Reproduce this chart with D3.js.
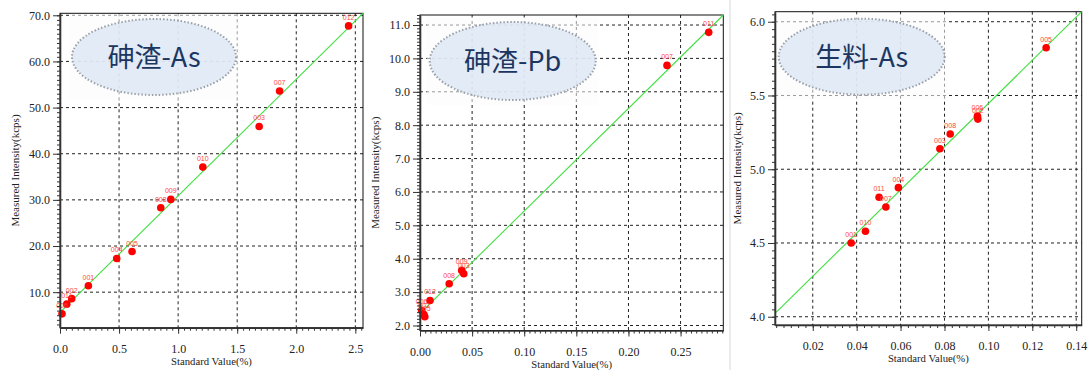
<!DOCTYPE html>
<html>
<head>
<meta charset="utf-8">
<script src="https://cdn.jsdelivr.net/npm/d3@7"></script>
<style>
  body { margin: 0; background: #fff; }
  svg { display: block; }
</style>
</head>
<body>
<div id="chart"></div>
<script>
// ---- data ----
// panel 1 : 砷渣-As
const p1Ids = ["012", "007", "003", "010", "009", "008", "005", "004", "001", "002", "011", "006"];
const p1X = [2.443, 1.859, 1.686, 1.209, 0.938, 0.853, 0.610, 0.480, 0.240, 0.099, 0.057, 0.017];
const p1Y = [67.7, 53.6, 45.9, 37.1, 30.1, 28.3, 18.8, 17.3, 11.4, 8.6, 7.4, 5.3];
const p1LineX = [0, 2.565];
const p1LineY = [5.6, 70.43];
const p1XTicks = [0.0, 0.5, 1.0, 1.5, 2.0, 2.5];
const p1YTicks = [10, 20, 30, 40, 50, 60, 70];

// panel 2 : 砷渣-Pb
const p2Ids = ["011", "007", "009", "003", "008", "012", "006", "002", "005"];
const p2X = [0.277, 0.237, 0.040, 0.042, 0.028, 0.0096, 0.0016, 0.0038, 0.0046];
const p2Y = [10.78, 9.79, 3.65, 3.55, 3.25, 2.75, 2.45, 2.33, 2.26];
const p2LineX = [0.003, 0.291];
const p2LineY = [2.45, 11.3];
const p2XTicks = [0.00, 0.05, 0.10, 0.15, 0.20, 0.25];
const p2YTicks = [2, 3, 4, 5, 6, 7, 8, 9, 10, 11];

// panel 3 : 生料-As
const p3Ids = ["005", "006", "002", "008", "003", "004", "011", "007", "010", "001"];
const p3X = [0.1263, 0.0950, 0.0952, 0.0826, 0.0779, 0.0590, 0.0502, 0.0533, 0.0440, 0.0375];
const p3Y = [5.824, 5.36, 5.34, 5.239, 5.139, 4.875, 4.81, 4.744, 4.58, 4.50];
const p3LineX = [0.0033, 0.1425];
const p3LineY = [4.03, 6.068];
const p3XTicks = [0.02, 0.04, 0.06, 0.08, 0.10, 0.12, 0.14];
const p3YTicks = [4.0, 4.5, 5.0, 5.5, 6.0];

const titles = ["砷渣-As", "砷渣-Pb", "生料-As"];

const SERIF = "'Liberation Serif', 'DejaVu Serif', 'Times New Roman', serif";
const W = 1091, H = 370;
const svg = d3.select("#chart").append("svg").attr("width", W).attr("height", H);

// faint separator before the third panel
svg.append("line").attr("x1", 730).attr("x2", 730).attr("y1", 0).attr("y2", H)
  .attr("stroke", "#e4e4e4").attr("stroke-width", 1.5);

const panels = [
  { ids: p1Ids, xs: p1X, ys: p1Y, lx: p1LineX, ly: p1LineY, xt: p1XTicks, yt: p1YTicks,
    title: titles[0], left: 60, right: 363, top: 13.3, bottom: 327.7,
    xDom: [0, 2.565], yDom: [2.3, 70.43], xFmt: ".1f", yFmt: ".1f",
    xMinor: 0.05, yMinor: 1, yLabX: 15,
    ell: { cx: 154, cy: 57, rx: 82, ry: 38 } },
  { ids: p2Ids, xs: p2X, ys: p2Y, lx: p2LineX, ly: p2LineY, xt: p2XTicks, yt: p2YTicks,
    title: titles[1], left: 420, right: 723.3, top: 15, bottom: 330.5,
    xDom: [0, 0.291], yDom: [1.85, 11.3], xFmt: ".2f", yFmt: ".1f",
    xMinor: 0.005, yMinor: 0.1, yLabX: 375,
    ell: { cx: 512.7, cy: 61, rx: 83, ry: 39 } },
  { ids: p3Ids, xs: p3X, ys: p3Y, lx: p3LineX, ly: p3LineY, xt: p3XTicks, yt: p3YTicks,
    title: titles[2], left: 775, right: 1081.7, top: 11.7, bottom: 325,
    xDom: [0.0028, 0.1425], yDom: [3.944, 6.068], xFmt: ".2f", yFmt: ".1f",
    xMinor: 0.02 / 6, yMinor: 0.05, yLabX: 737,
    ell: { cx: 861.7, cy: 56.7, rx: 83, ry: 38 } }
];

panels.forEach(drawPanel);

function minorTicks(dom, step) {
  const out = [];
  const start = Math.ceil(dom[0] / step - 1e-6);
  for (let i = start; i * step <= dom[1] + 1e-9; i++) out.push(+(i * step).toFixed(6));
  return out;
}

function drawPanel(p) {
  const x = d3.scaleLinear().domain(p.xDom).range([p.left, p.right]);
  const y = d3.scaleLinear().domain(p.yDom).range([p.bottom, p.top]);
  const g = svg.append("g");

  // dashed grid
  const grid = g.append("g").attr("stroke", "#222").attr("stroke-width", 1)
    .attr("stroke-dasharray", "3,3");
  grid.selectAll("line.v").data(p.xt.filter(d => x(d) > p.left + 2 && x(d) < p.right - 1))
    .enter().append("line").attr("class", "v")
    .attr("x1", d => x(d)).attr("x2", d => x(d)).attr("y1", p.top).attr("y2", p.bottom);
  grid.selectAll("line.h").data(p.yt)
    .enter().append("line").attr("class", "h")
    .attr("x1", p.left).attr("x2", p.right).attr("y1", d => y(d)).attr("y2", d => y(d));

  // callout: faint white box that greys the grid, then ellipse + title
  g.append("rect")
    .attr("x", p.ell.cx - p.ell.rx - 3).attr("y", p.ell.cy - p.ell.ry - 5)
    .attr("width", 2 * p.ell.rx + 6).attr("height", 2 * p.ell.ry + 10)
    .attr("fill", "#fbfcfe").attr("fill-opacity", 0.55);
  g.append("ellipse").attr("cx", p.ell.cx).attr("cy", p.ell.cy)
    .attr("rx", p.ell.rx).attr("ry", p.ell.ry)
    .attr("fill", "#dde8f4").attr("fill-opacity", 0.85)
    .attr("stroke", "#9aa0a8").attr("stroke-width", 2).attr("stroke-dasharray", "1.5,2");
  g.append("text").attr("x", p.ell.cx).attr("y", p.ell.cy + 10)
    .attr("text-anchor", "middle")
    .style("font-family", "'Noto Sans CJK SC', 'Noto Sans', sans-serif")
    .style("font-size", "27px").style("fill", "#1c3561")
    .text(p.title);

  // frame
  g.append("rect").attr("x", p.left).attr("y", p.top)
    .attr("width", p.right - p.left).attr("height", p.bottom - p.top)
    .attr("fill", "none").attr("stroke", "#111").attr("stroke-width", 1);

  // calibration line
  const line = d3.line().x(d => x(d[0])).y(d => y(d[1]));
  g.append("path").datum(d3.zip(p.lx, p.ly))
    .attr("fill", "none").attr("stroke", "#3fe03f").attr("stroke-width", 1.1)
    .attr("d", line);

  // points + id labels
  const pts = d3.zip(p.ids, p.xs, p.ys);
  g.selectAll("circle.pt").data(pts).enter().append("circle").attr("class", "pt")
    .attr("cx", d => x(d[1])).attr("cy", d => y(d[2])).attr("r", 3.8)
    .attr("fill", "#ff0000");
  g.selectAll("text.lab").data(pts).enter().append("text").attr("class", "lab")
    .attr("x", d => x(d[1])).attr("y", d => y(d[2]) - 6)
    .attr("text-anchor", "middle")
    .style("font-family", "'Liberation Sans', sans-serif").style("font-size", "7px")
    .style("fill", "#ff4646")
    .text(d => d[0]);

  // axes: minor ticks then majors
  g.append("g").attr("transform", `translate(0,${p.bottom})`)
    .call(d3.axisBottom(x).tickValues(minorTicks(p.xDom, p.xMinor)).tickSize(3).tickFormat(""))
    .call(a => a.select(".domain").remove())
    .selectAll("line").attr("stroke", "#333");
  const xa = g.append("g").attr("transform", `translate(0,${p.bottom})`)
    .call(d3.axisBottom(x).tickValues(p.xt).tickSize(6).tickPadding(10.5).tickFormat(d3.format(p.xFmt)).tickSizeOuter(0));
  xa.attr("font-family", SERIF).attr("font-size", 12);
  xa.select(".domain").attr("stroke", "#333").attr("stroke-width", 1.6);
  xa.selectAll(".tick line").attr("stroke", "#333");
  xa.selectAll(".tick text").attr("fill", "#222");

  g.append("g").attr("transform", `translate(${p.left},0)`)
    .call(d3.axisLeft(y).tickValues(minorTicks(p.yDom, p.yMinor)).tickSize(3).tickFormat(""))
    .call(a => a.select(".domain").remove())
    .selectAll("line").attr("stroke", "#333");
  const ya = g.append("g").attr("transform", `translate(${p.left},0)`)
    .call(d3.axisLeft(y).tickValues(p.yt).tickSize(7).tickPadding(3).tickFormat(d3.format(p.yFmt)).tickSizeOuter(0));
  ya.attr("font-family", SERIF).attr("font-size", 12);
  ya.select(".domain").attr("stroke", "#333").attr("stroke-width", 1.6);
  ya.selectAll(".tick line").attr("stroke", "#333");
  ya.selectAll(".tick text").attr("fill", "#222");

  // axis titles
  g.append("text")
    .attr("transform", `translate(${p.yLabX},${(p.top + p.bottom) / 2}) rotate(-90)`)
    .attr("text-anchor", "middle").attr("dy", "0.35em")
    .style("font-family", SERIF).style("font-size", "11px").style("fill", "#222")
    .text("Measured Intensity(kcps)");
  g.append("text").attr("x", (p.left + p.right) / 2).attr("y", p.bottom + 37)
    .attr("text-anchor", "middle")
    .style("font-family", SERIF).style("font-size", "10.7px").style("fill", "#222")
    .text("Standard Value(%)");
}
</script>
</body>
</html>
